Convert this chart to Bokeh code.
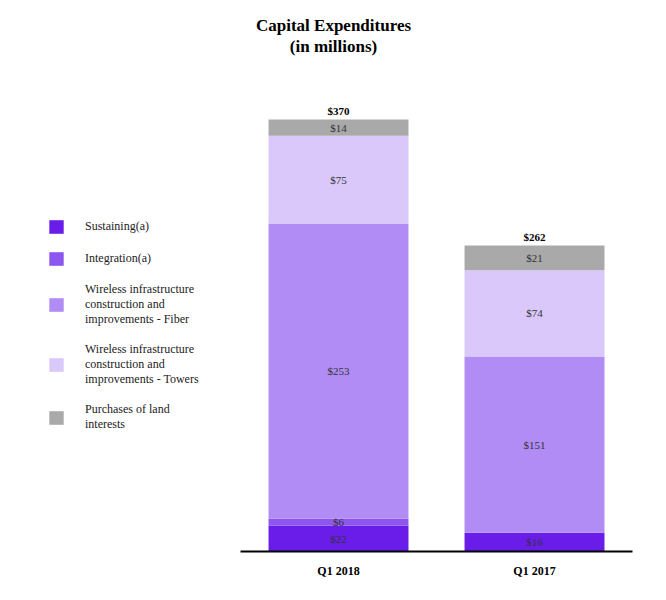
from bokeh.plotting import figure
from bokeh.models import ColumnDataSource, Range1d, FixedTicker, Legend, LegendItem, Label
from bokeh.embed import file_html
from bokeh.resources import INLINE
from bokeh.core.properties import value

categories = ["Q1 2018", "Q1 2017"]
sustaining = [22, 16]
integration = [6, 0]
fiber = [253, 151]
towers = [75, 74]
land = [14, 21]

series_keys = ["sustaining", "integration", "fiber", "towers", "land"]
series_names = [
    "Sustaining(a)",
    "Integration(a)",
    "Wireless infrastructure\nconstruction and\nimprovements - Fiber",
    "Wireless infrastructure\nconstruction and\nimprovements - Towers",
    "Purchases of land\ninterests",
]
colors = ["#6a1de8", "#8d56ee", "#b18cf5", "#d9c8f9", "#a9a9a9"]

FONT = "Liberation Serif"

xs = [i + 0.5 for i in range(len(categories))]
data = dict(x=xs, sustaining=sustaining, integration=integration,
            fiber=fiber, towers=towers, land=land)
source = ColumnDataSource(data)

p = figure(width=658, height=592, output_backend="svg", toolbar_location=None,
           x_range=Range1d(-1.1837, 2.1326), y_range=Range1d(0, 465.1),
           min_border_left=8, min_border_right=0, min_border_top=8,
           min_border_bottom=41)
p.outline_line_color = None
p.xgrid.visible = False
p.ygrid.visible = False
p.yaxis.visible = False
p.background_fill_color = "white"
p.border_fill_color = "white"

renderers = p.vbar_stack(series_keys, x="x", width=0.714, color=colors,
                         line_color=None, source=source)

# segment labels
lx, ly, lt = [], [], []
series_vals = [sustaining, integration, fiber, towers, land]
for i in range(len(categories)):
    base = 0
    for vals in series_vals:
        v = vals[i]
        if v > 0:
            lx.append(xs[i])
            ly.append(base + v / 2)
            lt.append("$%d" % v)
        base += v
p.text(x=lx, y=ly, text=lt, text_align="center", text_baseline="middle",
       text_font=value(FONT), text_font_size="11px", text_color="#333333")

totals = [sum(v[i] for v in series_vals) for i in range(len(categories))]
p.text(x=xs, y=totals, text=["$%d" % t for t in totals], text_align="center",
       text_baseline="bottom", y_offset=-3, text_font=value(FONT),
       text_font_size="11px", text_font_style="bold", text_color="black")

ax = p.xaxis[0]
ax.ticker = FixedTicker(ticks=xs)
ax.major_label_overrides = {x: c for x, c in zip(xs, categories)}
ax.bounds = (0, len(categories))
ax.axis_line_width = 2
ax.axis_line_color = "black"
ax.major_tick_line_color = None
ax.minor_tick_line_color = None
ax.major_label_standoff = 6
ax.major_label_text_font = FONT
ax.major_label_text_font_size = "12px"
ax.major_label_text_font_style = "bold"
ax.major_label_text_color = "black"

items = [LegendItem(label=n, renderers=[r]) for n, r in zip(series_names, renderers)]
legend = Legend(items=items, location=(39, 119), orientation="vertical",
                glyph_width=18, glyph_height=17, label_height=15,
                label_standoff=20, spacing=15, padding=0, margin=0,
                border_line_color=None, background_fill_alpha=0,
                label_text_font=FONT, label_text_font_size="12px",
                label_text_color="#222222", label_text_line_height=1.25)
p.add_layout(legend, "center")

p.add_layout(Label(x=325, y=526, x_units="screen", y_units="screen",
                   text="Capital Expenditures", text_align="center",
                   text_baseline="middle", text_font=FONT, text_color="black",
                   text_font_size="17px", text_font_style="bold"))
p.add_layout(Label(x=325, y=505, x_units="screen", y_units="screen",
                   text="(in millions)", text_align="center",
                   text_baseline="middle", text_font=FONT, text_color="black",
                   text_font_size="17px", text_font_style="bold"))

open("out.html", "w").write(file_html(p, INLINE))
